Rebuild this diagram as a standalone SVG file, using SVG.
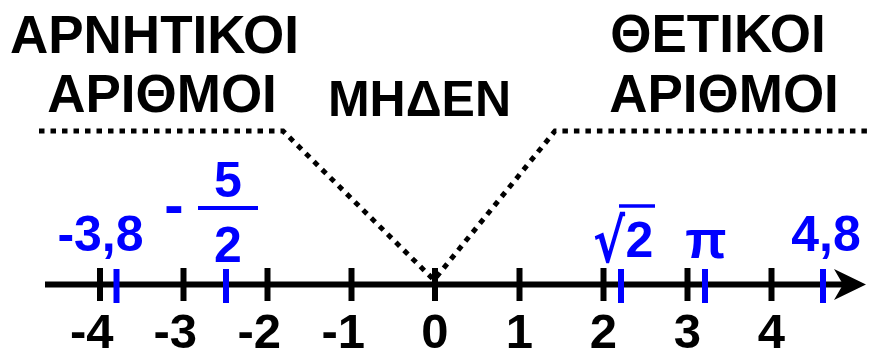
<svg xmlns="http://www.w3.org/2000/svg" width="872" height="356" viewBox="0 0 872 356">
<style>
text{font-family:"Liberation Sans",Arial,sans-serif;font-weight:bold}
.h{font-size:53px;fill:#000;text-anchor:middle}
.n{font-size:49px;fill:#000;text-anchor:middle}
.b{font-size:50px;fill:#0000ff;text-anchor:middle}
.tk{stroke:#000;stroke-width:6}
.bt{stroke:#0000ff;stroke-width:6}
.dot{fill:none;stroke:#000;stroke-width:5;stroke-dasharray:5.5 6}
</style>
<rect width="872" height="356" fill="#fff"/>
<g id="headings">
<text class="h" x="154.5" y="53">ΑΡΝΗΤΙΚΟΙ</text>
<text class="h" x="162" y="112">ΑΡΙΘΜΟΙ</text>
<text class="h" x="419.5" y="115.5" style="font-size:50px">ΜΗΔΕΝ</text>
<text class="h" x="718" y="52">ΘΕΤΙΚΟΙ</text>
<text class="h" x="724" y="112">ΑΡΙΘΜΟΙ</text>
</g>
<g id="connectors">
<polyline class="dot" points="39,131 283,131 434,280 555,131 870,131"/>
</g>
<g id="axis">
<line x1="45" y1="284.5" x2="845" y2="284.5" stroke="#000" stroke-width="6"/>
<polygon points="866,284.5 834,269 843,284.5 834,300" fill="#000"/>
</g>
<g id="ticks">
<line class="tk" x1="100" y1="268" x2="100" y2="301"/>
<line class="tk" x1="183.5" y1="268" x2="183.5" y2="301"/>
<line class="tk" x1="267.5" y1="268" x2="267.5" y2="301"/>
<line class="tk" x1="351.5" y1="268" x2="351.5" y2="301"/>
<line class="tk" x1="435" y1="268" x2="435" y2="301"/>
<line class="tk" x1="519.5" y1="268" x2="519.5" y2="301"/>
<line class="tk" x1="603.5" y1="268" x2="603.5" y2="301"/>
<line class="tk" x1="687.5" y1="268" x2="687.5" y2="301"/>
<line class="tk" x1="771.5" y1="268" x2="771.5" y2="301"/>
<line class="bt" x1="116.5" y1="269" x2="116.5" y2="303"/>
<line class="bt" x1="226" y1="269" x2="226" y2="303"/>
<line class="bt" x1="621" y1="269" x2="621" y2="303"/>
<line class="bt" x1="705" y1="269" x2="705" y2="303"/>
<line class="bt" x1="823" y1="269" x2="823" y2="303"/>
</g>
<g id="numbers">
<text class="n" x="113.6" y="348" style="text-anchor:end">-4</text>
<text class="n" x="197.1" y="348" style="text-anchor:end">-3</text>
<text class="n" x="281.1" y="348" style="text-anchor:end">-2</text>
<text class="n" x="365.1" y="348" style="text-anchor:end">-1</text>
<text class="n" x="435" y="348">0</text>
<text class="n" x="519.5" y="348">1</text>
<text class="n" x="603.5" y="348">2</text>
<text class="n" x="687.5" y="348">3</text>
<text class="n" x="771.5" y="348">4</text>
</g>
<g id="value-m38">
<text class="b" x="100.5" y="251">-3,8</text>
</g>
<g id="value-m52">
<text class="b" x="174" y="224.5" style="font-size:58px">-</text>
<line x1="198" y1="208" x2="258" y2="208" stroke="#0000ff" stroke-width="4"/>
<text class="b" x="228" y="197">5</text>
<text class="b" x="228" y="262">2</text>
</g>
<g id="value-sqrt2">
<text transform="translate(609,262) scale(0.8,1)" x="0" y="0" style="font-family:'DejaVu Sans',sans-serif;font-weight:bold;font-size:60px;fill:#0000ff;text-anchor:middle">√</text>
<line x1="619" y1="206" x2="655" y2="206" stroke="#0000ff" stroke-width="3.5"/>
<text class="b" x="639.5" y="257">2</text>
</g>
<g id="value-pi">
<text class="b" x="706" y="258" style="font-size:54px">π</text>
</g>
<g id="value-48">
<text class="b" x="826" y="251">4,8</text>
</g>
</svg>
